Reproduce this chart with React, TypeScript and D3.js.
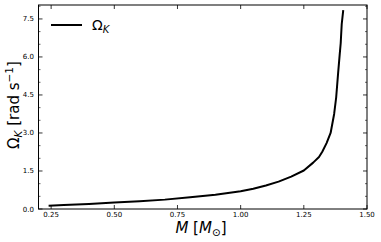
import React from "react";
import * as d3 from "d3";

const massValues = [0.24, 0.3, 0.4, 0.5, 0.6, 0.7, 0.8, 0.9, 1.0, 1.05, 1.1, 1.15, 1.2, 1.25, 1.287, 1.31, 1.323, 1.34, 1.356, 1.37, 1.378, 1.386, 1.392, 1.396, 1.397, 1.4, 1.406];
const omegaValues = [0.13, 0.16, 0.2, 0.26, 0.31, 0.37, 0.46, 0.56, 0.7, 0.8, 0.93, 1.08, 1.28, 1.52, 1.83, 2.05, 2.26, 2.6, 3.0, 3.75, 4.4, 5.4, 6.1, 6.55, 6.75, 7.3, 7.85];
const xTicks = [0.25, 0.5, 0.75, 1.0, 1.25, 1.5];
const yTicks = [0.0, 1.5, 3.0, 4.5, 6.0, 7.5];
const yMinorTicks = [0.5, 1.0, 2.0, 2.5, 3.5, 4.0, 5.0, 5.5, 6.5, 7.0, 8.0];

const W = 381, H = 242;
const L = 38.5, R = 367, T = 5, B = 209;

export default function App() {
  const x = d3.scaleLinear().domain([0.2, 1.5]).range([L, R]);
  const y = d3.scaleLinear().domain([0, 8.05]).range([B, T]);
  const pts = massValues.map((m, i) => [m, omegaValues[i]] as [number, number]);
  const line = d3.line<[number, number]>().x(d => x(d[0])).y(d => y(d[1])).curve(d3.curveLinear);
  const font = "DejaVu Sans, sans-serif";
  return (
    <svg width={W} height={H} style={{ position: "absolute", left: 0, top: 0 }}>
      <rect x={0} y={0} width={W} height={H} fill="#fff" />
      <defs>
        <clipPath id="clip"><rect x={L} y={T} width={R - L} height={B - T} /></clipPath>
      </defs>
      <path d={line(pts) || ""} fill="none" stroke="#000" strokeWidth={2} clipPath="url(#clip)" strokeLinejoin="round" />
      <rect x={L} y={T} width={R - L} height={B - T} fill="none" stroke="#000" strokeWidth={1} />
      {xTicks.map(t => (
        <g key={"x" + t}>
          <line x1={x(t)} x2={x(t)} y1={B} y2={B - 4} stroke="#000" strokeWidth={0.8} />
          <line x1={x(t)} x2={x(t)} y1={T} y2={T + 4} stroke="#000" strokeWidth={0.8} />
          <text x={x(t)} y={B + 8.3} fontSize={7} fontFamily={font} textAnchor="middle">{t.toFixed(2)}</text>
        </g>
      ))}
      {yTicks.map(t => (
        <g key={"y" + t}>
          <line x1={L} x2={L + 4} y1={y(t)} y2={y(t)} stroke="#000" strokeWidth={0.8} />
          <line x1={R} x2={R - 4} y1={y(t)} y2={y(t)} stroke="#000" strokeWidth={0.8} />
          <text x={34} y={y(t) + 2.5} fontSize={7} fontFamily={font} textAnchor="end">{t.toFixed(1)}</text>
        </g>
      ))}
      {yMinorTicks.map(t => (
        <g key={"ym" + t}>
          <line x1={L} x2={L + 2} y1={y(t)} y2={y(t)} stroke="#000" strokeWidth={0.6} />
          <line x1={R} x2={R - 2} y1={y(t)} y2={y(t)} stroke="#000" strokeWidth={0.6} />
        </g>
      ))}
      <line x1={51} x2={82} y1={25} y2={25} stroke="#000" strokeWidth={2} />
      <text x={92} y={30} fontSize={14} fontFamily={font}>Ω<tspan fontSize={10} dy={3} fontStyle="italic">K</tspan></text>
      <text x={201} y={232.5} fontSize={15} fontFamily={font} textAnchor="middle">
        <tspan fontStyle="italic">M</tspan> [<tspan fontStyle="italic">M</tspan><tspan fontSize={10.5} dy={3}>⊙</tspan><tspan dy={-3}>]</tspan>
      </text>
      <text transform={`translate(19,105) rotate(-90)`} fontSize={15} fontFamily={font} textAnchor="middle">
        Ω<tspan fontSize={10.5} dy={2.5} fontStyle="italic">K</tspan><tspan dy={-2.5}> [rad s</tspan><tspan fontSize={10.5} dy={-6}>−1</tspan><tspan dy={6}>]</tspan>
      </text>
    </svg>
  );
}
